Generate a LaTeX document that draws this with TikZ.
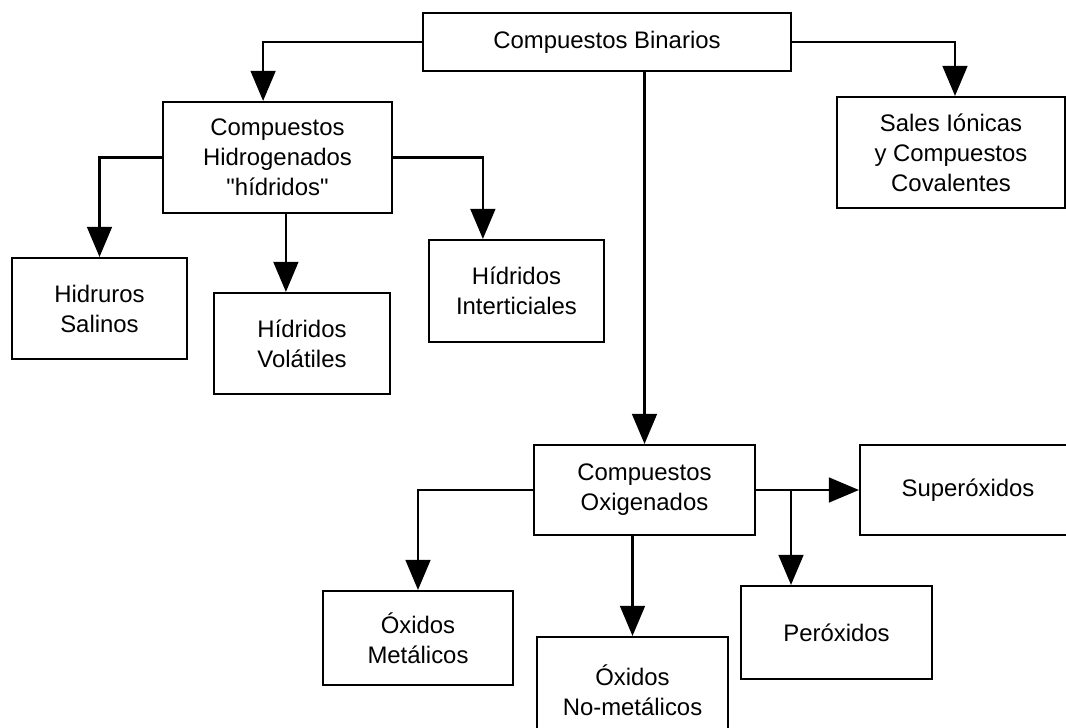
\documentclass[tikz,border=0pt]{standalone}
\usepackage{fontspec}
\setmainfont{Liberation Sans}[Ligatures=TeXOff]
\usetikzlibrary{arrows.meta,positioning}

\begin{document}
\begin{tikzpicture}[x=0.025cm,y=-0.025cm]
  \tikzset{
    box/.style={
      draw,
      rectangle,
      align=center,
      line width=1.5pt,
      inner sep=0pt,
      font=\fontsize{17}{21.3}\selectfont
    },
    link/.style={
      draw,
      line width=1.5pt,
      -{Triangle[length=7.5mm, width=6.2mm]}
    }
  }
  \useasboundingbox (0,0) rectangle (1066,728);

  % Nodes
  \node[box, minimum width=9.2cm, minimum height=1.45cm] (bin) at (607,42) {Compuestos Binarios};
  \node[box, minimum width=5.725cm, minimum height=2.775cm] (hid) at (277.5,157.5) {Compuestos\\Hidrogenados\\"hídridos"};
  \node[box, minimum width=5.7cm, minimum height=2.775cm] (sal) at (951,152.5) {Sales Iónicas\\y Compuestos\\Covalentes};
  \node[box, minimum width=4.375cm, minimum height=2.525cm] (hsal) at (99.5,308.5) {Hidruros\\Salinos};
  \node[box, minimum width=4.4cm, minimum height=2.525cm] (hvol) at (302,343.5) {Hídridos\\Volátiles};
  \node[box, minimum width=4.375cm, minimum height=2.55cm] (hint) at (516.5,291) {Hídridos\\Interticiales};
  \node[box, minimum width=5.525cm, minimum height=2.25cm] (oxi) at (644.5,490) {Compuestos\\Oxigenados};
  \node[box, minimum width=5.4cm, minimum height=2.25cm] (sup) at (968,490) {Superóxidos};
  \node[box, minimum width=4.775cm, minimum height=2.325cm] (per) at (836.5,632.5) {Peróxidos};
  \node[box, minimum width=4.75cm, minimum height=2.35cm] (omet) at (418,638) {Óxidos\\Metálicos};
  \node[box, minimum width=4.775cm, minimum height=2.65cm] (onm) at (632.5,690) {Óxidos\\No-metálicos};

  % Edges
  \draw[link] (bin.west) -| ([xshift=-0.36cm]hid.north);
  \draw[link] (bin.east) -| ([xshift=0.1cm]sal.north);
  \draw[link] (bin.south -| oxi.north) -- (oxi.north);
  \draw[link] (hid.west) -| (hsal.north);
  \draw[link] ([xshift=0.21cm]hid.south) -- ([xshift=0.21cm]hid.south |- hvol.north);
  \draw[link] (hid.east) -| ([xshift=-0.84cm]hint.north);
  \draw[link] (oxi.west) -| (omet.north);
  \draw[link] (oxi.south -| onm.north) -- (onm.north);
  \draw[link] (oxi.east) -- (sup.west);
  \coordinate (split) at (791,490);
  \draw[link] (split) -- (split |- per.north);
\end{tikzpicture}
\end{document}
